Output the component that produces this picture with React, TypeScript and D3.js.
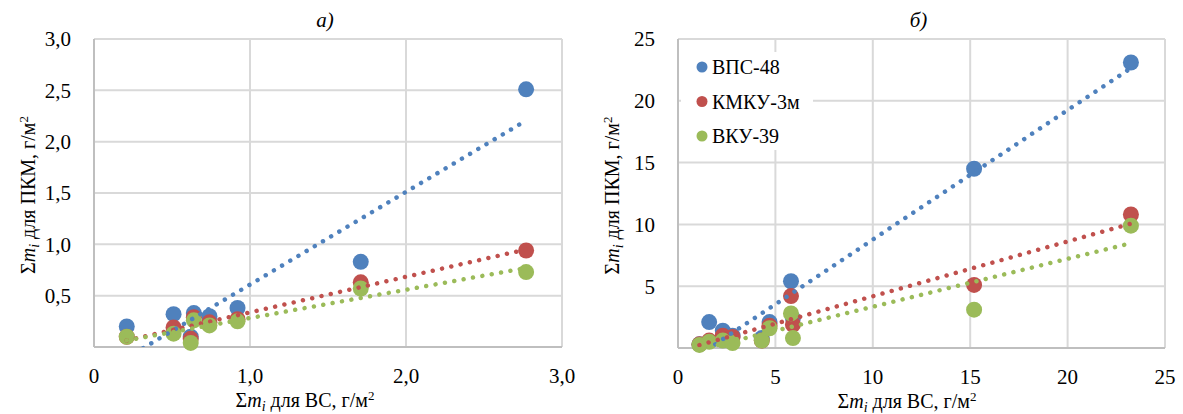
import React from "react";
import * as d3 from "d3";

// panel a) — values of Σm_i for ВС (x) and ПКМ (y), g/m²
const xA = [0.21, 0.51, 0.62, 0.64, 0.74, 0.92, 1.71, 2.77];
const vpsA = [0.2, 0.32, 0.1, 0.33, 0.3, 0.38, 0.83, 2.51];
const kmkuA = [0.1, 0.19, 0.08, 0.29, 0.24, 0.27, 0.63, 0.94];
const vkuA = [0.1, 0.13, 0.04, 0.26, 0.21, 0.25, 0.57, 0.73];

// panel б)
const xB = [1.1, 1.6, 2.3, 2.8, 4.3, 4.7, 5.8, 5.9, 15.2, 23.25];
const vpsB = [0.3, 2.1, 1.4, 1.0, 0.8, 2.1, 5.4, 2.4, 14.5, 23.1];
const kmkuB = [0.3, 0.6, 1.0, 0.9, 0.6, 1.8, 4.2, 1.9, 5.1, 10.8];
const vkuB = [0.25, 0.5, 0.6, 0.4, 0.6, 1.6, 2.8, 0.8, 3.1, 9.9];

const seriesNames = ["ВПС-48", "КМКУ-3м", "ВКУ-39"];
const colors = ["#4f81bd", "#c0504d", "#9bbb59"];

const xTicksA = [0, 1, 2, 3];
const xTickLabelsA = ["0", "1,0", "2,0", "3,0"];
const yTicksA = [0.5, 1, 1.5, 2, 2.5, 3];
const yTickLabelsA = ["0,5", "1,0", "1,5", "2,0", "2,5", "3,0"];

const xTicksB = [0, 5, 10, 15, 20, 25];
const yTicksB = [5, 10, 15, 20, 25];

const serif = { fontFamily: "Liberation Serif, Times New Roman, DejaVu Serif, serif" };
const GRID = "#d9d9d9";

function fit(xs: number[], ys: number[]) {
  const mx = d3.mean(xs)!;
  const my = d3.mean(ys)!;
  let sxy = 0;
  let sxx = 0;
  xs.forEach((x, i) => {
    sxy += (x - mx) * (ys[i] - my);
    sxx += (x - mx) * (x - mx);
  });
  const k = sxy / sxx;
  return { k, b: my - k * mx };
}

type PanelProps = {
  id: string;
  title: string;
  xs: number[];
  series: number[][];
  xDomain: [number, number];
  yDomain: [number, number];
  xRange: [number, number];
  yRange: [number, number];
  xTicks: number[];
  xLabels: string[];
  yTicks: number[];
  yLabels: string[];
  xTitleX: number;
  yTitleX: number;
  legend?: boolean;
};

const Panel = (p: PanelProps) => {
  const x = d3.scaleLinear().domain(p.xDomain).range(p.xRange);
  const y = d3.scaleLinear().domain(p.yDomain).range(p.yRange);
  const [x0, x1] = p.xRange;
  const [y0, y1] = p.yRange;
  const xMin = d3.min(p.xs)!;
  const xMax = d3.max(p.xs)!;

  return (
    <g>
      <defs>
        <clipPath id={`clip-${p.id}`}>
          <rect x={x0} y={y1} width={x1 - x0} height={y0 - y1} />
        </clipPath>
      </defs>
      {/* grid */}
      {p.yTicks.map((t) => (
        <line key={`gy${t}`} x1={x0} x2={x1} y1={y(t)} y2={y(t)} stroke={GRID} strokeWidth={2} />
      ))}
      {p.xTicks
        .filter((t) => t !== p.xDomain[0])
        .map((t) => (
          <line key={`gx${t}`} x1={x(t)} x2={x(t)} y1={y0} y2={y1} stroke={GRID} strokeWidth={2} />
        ))}
      {/* axes */}
      <line x1={x0} x2={x0} y1={y0} y2={y1} stroke="#bfbfbf" strokeWidth={2} />
      <line x1={x0} x2={x1} y1={y0} y2={y0} stroke="#bfbfbf" strokeWidth={2} />

      {p.legend && (
        <g>
          <rect x={x0 + 3} y={52} width={132} height={98} fill="#fff" />
          {seriesNames.map((n, i) => (
            <g key={n}>
              <circle cx={x0 + 24} cy={67 + i * 34.5} r={5.5} fill={colors[i]} />
              <text x={x0 + 34} y={67 + i * 34.5} dy="0.35em" fontSize={20} style={serif}>
                {n}
              </text>
            </g>
          ))}
        </g>
      )}

      {/* markers */}
      {p.series.map((ys, si) => (
        <g key={`s${si}`} fill={colors[si]}>
          {ys.map((v, i) => (
            <circle key={i} cx={x(p.xs[i])} cy={y(v)} r={8} />
          ))}
        </g>
      ))}

      {/* linear trend lines */}
      <g clipPath={`url(#clip-${p.id})`}>
        {p.series.map((ys, si) => {
          const { k, b } = fit(p.xs, ys);
          const pts: [number, number][] = [
            [x(xMin), y(k * xMin + b)],
            [x(xMax), y(k * xMax + b)],
          ];
          return (
            <path
              key={`t${si}`}
              d={d3.line()(pts) || ""}
              stroke={colors[si]}
              strokeWidth={4.5}
              strokeLinecap="round"
              strokeDasharray="0.01 9.5"
              fill="none"
            />
          );
        })}
      </g>

      {/* tick labels */}
      <g style={serif} fontSize={21} fill="#000">
        {p.xTicks.map((t, i) => (
          <text key={`xl${t}`} x={x(t)} y={y0 + 36} textAnchor="middle">
            {p.xLabels[i]}
          </text>
        ))}
        {p.yTicks.map((t, i) => (
          <text key={`yl${t}`} x={x0 - 23} y={y(t)} dy="0.35em" textAnchor="end">
            {p.yLabels[i]}
          </text>
        ))}
      </g>

      {/* titles */}
      <text x={(x0 + x1) / 2 - 3} y={27} textAnchor="middle" style={serif} fontSize={21} fontStyle="italic">
        {p.title}
      </text>
      <text x={p.xTitleX} y={y0 + 60} textAnchor="middle" style={serif} fontSize={20}>
        Σ<tspan fontStyle="italic">m</tspan>
        <tspan fontStyle="italic" fontSize={14} dy={4}>i</tspan>
        <tspan dy={-4}> для ВС, г/м</tspan>
        <tspan fontSize={13} dy={-7}>2</tspan>
      </text>
      <text
        transform={`translate(${p.yTitleX},${(y0 + y1) / 2 + 2}) rotate(-90)`}
        textAnchor="middle"
        style={serif}
        fontSize={20}
      >
        Σ<tspan fontStyle="italic">m</tspan>
        <tspan fontStyle="italic" fontSize={14} dy={4}>i</tspan>
        <tspan dy={-4}> для ПКМ, г/м</tspan>
        <tspan fontSize={13} dy={-7}>2</tspan>
      </text>
    </g>
  );
};

export default function App() {
  return (
    <svg
      width={1183}
      height={414}
      style={{ position: "absolute", left: 0, top: 0, background: "#fff" }}
    >
      <Panel
        id="a"
        title="а)"
        xs={xA}
        series={[vpsA, kmkuA, vkuA]}
        xDomain={[0, 3]}
        yDomain={[0, 3]}
        xRange={[94, 562]}
        yRange={[347, 39]}
        xTicks={xTicksA}
        xLabels={xTickLabelsA}
        yTicks={yTicksA}
        yLabels={yTickLabelsA}
        xTitleX={305}
        yTitleX={35}
      />
      <Panel
        id="b"
        title="б)"
        xs={xB}
        series={[vpsB, kmkuB, vkuB]}
        xDomain={[0, 25]}
        yDomain={[0, 25]}
        xRange={[678, 1165]}
        yRange={[348, 39]}
        xTicks={xTicksB}
        xLabels={xTicksB.map(String)}
        yTicks={yTicksB}
        yLabels={yTicksB.map(String)}
        xTitleX={907}
        yTitleX={619}
        legend
      />
    </svg>
  );
}
